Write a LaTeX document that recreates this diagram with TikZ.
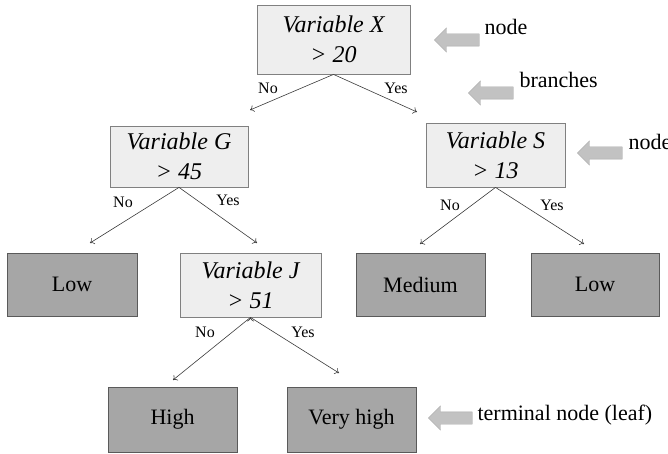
\documentclass[tikz,border=0pt]{standalone}
\usepackage{fontspec}
\setmainfont{Liberation Serif}
\usetikzlibrary{arrows.meta,shapes.arrows}

\definecolor{splitfill}{HTML}{EEEEEE}
\definecolor{splitline}{HTML}{808080}
\definecolor{leaffill}{HTML}{A6A6A6}
\definecolor{leafline}{HTML}{5A5A5A}
\definecolor{branchline}{HTML}{3A3A3A}
\definecolor{pointerfill}{HTML}{C2C2C2}
\definecolor{pointerline}{HTML}{A8A8A8}

\begin{document}
\begin{tikzpicture}[x=1pt,y=-1pt,
  split/.style={draw=splitline,line width=0.8pt,fill=splitfill,align=center,inner sep=0pt,
    font=\fontsize{24}{30}\selectfont\itshape},
  leaf/.style={draw=leafline,line width=0.8pt,fill=leaffill,inner sep=0pt,
    font=\fontsize{22}{26}\selectfont},
  branch/.style={draw=branchline,line width=0.6pt,-{To[length=4pt,width=7pt]}},
  answer/.style={font=\fontsize{16}{18}\selectfont},
  pointer/.style={single arrow,shape border rotate=180,draw=pointerline,fill=pointerfill,
    inner sep=6pt,single arrow head extend=6pt,minimum height=45pt,anchor=tip},
  remark/.style={font=\fontsize{22}{26}\selectfont,anchor=west}]

\useasboundingbox (0,0) rectangle (668,454);

% decision nodes
\node[split,minimum width=153pt,minimum height=69pt] (x) at (333.5,39.5) {Variable X\\> 20};
\node[split,minimum width=138pt,minimum height=61pt] (g) at (179,156.5) {Variable G\\> 45};
\node[split,minimum width=139pt,minimum height=64pt] (s) at (495.5,155) {Variable S\\> 13};
\node[split,minimum width=141pt,minimum height=64pt] (j) at (250.5,285) {Variable J\\> 51};

% leaves
\node[leaf,minimum width=130pt,minimum height=63pt] (lowl) at (72,284.5) {Low};
\node[leaf,minimum width=129pt,minimum height=63pt] (medium) at (420.5,284.5) {Medium};
\node[leaf,minimum width=128pt,minimum height=63pt] (lowr) at (595,284.5) {Low};
\node[leaf,minimum width=129pt,minimum height=65pt] (high) at (172.5,419.5) {High};
\node[leaf,minimum width=129pt,minimum height=65pt] (veryhigh) at (351.5,419.5) {Very high};

% branch ends
\coordinate (xno) at (250,110);
\coordinate (xyes) at (417,112);
\coordinate (gno) at (90,243);
\coordinate (gyes) at (257,243);
\coordinate (sno) at (420,244);
\coordinate (syes) at (584,244);
\coordinate (jno) at (173,380);
\coordinate (jyes) at (339,373);

\path[branch] (x.south) edge (xno) (x.south) edge (xyes)
  (g.south) edge (gno) (g.south) edge (gyes)
  (s.south) edge (sno) (s.south) edge (syes)
  (j.south) edge (jno) (j.south) edge (jyes);

\node[answer] (xnol) at (268,88) {No};
\node[answer] (xyesl) at (396,88) {Yes};
\node[answer] (gnol) at (123,202) {No};
\node[answer] (gyesl) at (228,200) {Yes};
\node[answer] (snol) at (450,205) {No};
\node[answer] (syesl) at (552,205) {Yes};
\node[answer] (jnol) at (205,332) {No};
\node[answer] (jyesl) at (303,332) {Yes};

% notes
\node[pointer] (p1) at (434,40) {};
\node[pointer] (p2) at (468,93) {};
\node[pointer] (p3) at (577,153) {};
\node[pointer,minimum height=44pt] (p4) at (428,418) {};
\node[remark] (n1) at (481,27) {node};
\node[remark] (n2) at (516,80) {branches};
\node[remark] (n3) at (625,142) {node};
\node[remark] (n4) at (474,415) {terminal node (leaf)};

\end{tikzpicture}
\end{document}
